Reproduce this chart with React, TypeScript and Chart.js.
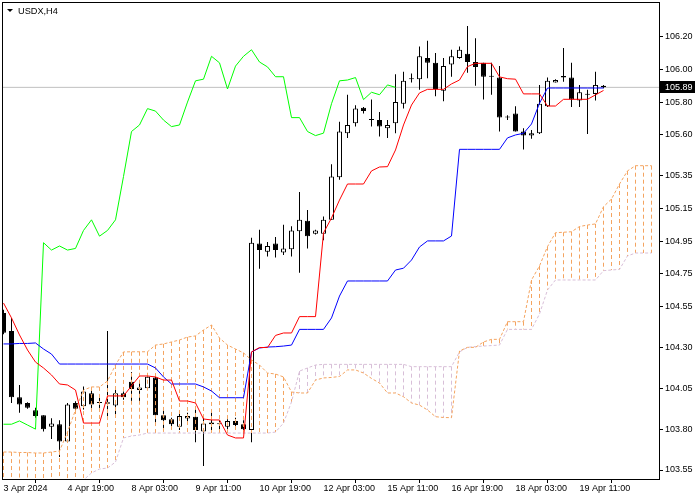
import React, { useEffect, useRef } from 'react';
import { Chart, registerables } from 'chart.js';
Chart.register(...registerables);

const symbolTitle = 'USDX,H4';
const lastPrice = 105.89;

const timeLabels = ['3 Apr 2024', '4 Apr 19:00', '8 Apr 03:00', '9 Apr 11:00', '10 Apr 19:00', '12 Apr 03:00', '15 Apr 11:00', '16 Apr 19:00', '18 Apr 03:00', '19 Apr 11:00'];
const yTickValues = [103.55, 103.8, 104.05, 104.3, 104.55, 104.75, 104.95, 105.15, 105.35, 105.6, 105.8, 106.0, 106.2];

const opens = [104.51, 104.40, 103.995, 103.96, 103.915, 103.885, 103.815, 103.83, 103.725, 103.96,
  103.94, 104.02, 103.96, 103.965, 103.945, 104.02, 104.09, 104.04, 104.05, 104.115,
  103.885, 103.86, 103.815, 103.865, 103.875, 103.785, 103.84, 103.83, 103.815, 103.85,
  103.83, 103.795, 104.935, 104.885, 104.935, 104.88, 104.90, 105.01, 105.075, 104.995,
  104.995, 105.08, 105.34, 105.61, 105.67, 105.765, 105.69, 105.69, 105.64, 105.67,
  105.79, 105.94, 105.94, 106.07, 106.04, 105.87, 106.03, 106.07, 106.095, 106.045,
  106.04, 105.955, 105.95, 105.705, 105.73, 105.62, 105.595, 105.61, 105.775, 105.92,
  105.96, 105.95, 105.81, 105.845, 105.85, 105.90];
const highs = [104.53, 104.48, 104.07, 103.965, 103.93, 103.885, 103.866, 103.855, 103.96, 103.97,
  104.06, 104.045, 103.99, 104.40, 104.05, 104.03, 104.15, 104.10, 104.14, 104.13,
  103.935, 103.87, 103.90, 103.90, 103.93, 103.87, 103.915, 103.855, 103.86, 103.87,
  103.855, 104.97, 105.02, 104.945, 104.975, 105.05, 105.04, 105.25, 105.14, 105.02,
  105.10, 105.42, 105.68, 105.845, 105.78, 105.77, 105.815, 105.74, 105.69, 105.97,
  105.985, 105.975, 106.14, 106.175, 106.10, 106.07, 106.12, 106.14, 106.265, 106.19,
  106.04, 106.04, 106.02, 105.72, 105.775, 105.64, 105.63, 105.905, 105.95, 105.94,
  106.13, 106.04, 105.905, 105.875, 105.985, 105.905];
const lows = [104.38, 103.96, 103.90, 103.925, 103.87, 103.785, 103.74, 103.63, 103.72, 103.91,
  103.92, 103.92, 103.91, 103.88, 103.89, 103.98, 103.96, 103.97, 104.05, 103.825,
  103.795, 103.81, 103.795, 103.845, 103.72, 103.575, 103.795, 103.795, 103.80, 103.81,
  103.775, 103.72, 104.78, 104.855, 104.85, 104.865, 104.855, 104.757, 104.905, 104.99,
  104.955, 105.08, 105.325, 105.58, 105.65, 105.73, 105.65, 105.59, 105.58, 105.61,
  105.76, 105.92, 105.875, 105.945, 105.835, 105.805, 105.955, 106.065, 105.98, 105.90,
  105.815, 105.845, 105.62, 105.69, 105.62, 105.51, 105.575, 105.605, 105.77, 105.92,
  105.925, 105.77, 105.77, 105.605, 105.81, 105.885];
const closes = [104.39, 103.995, 103.95, 103.93, 103.88, 103.80, 103.835, 103.725, 103.95, 103.925,
  104.03, 103.95, 103.96, 103.955, 104.02, 103.995, 104.045, 104.055, 104.12, 103.885,
  103.855, 103.83, 103.88, 103.88, 103.795, 103.835, 103.83, 103.83, 103.85, 103.825,
  103.80, 104.94, 104.895, 104.92, 104.895, 104.905, 105.015, 105.08, 104.98, 105.015,
  105.08, 105.345, 105.62, 105.66, 105.76, 105.745, 105.69, 105.65, 105.66, 105.80,
  105.93, 105.94, 106.08, 106.04, 105.88, 106.02, 106.08, 106.12, 106.045, 106.015,
  105.955, 105.955, 105.705, 105.705, 105.62, 105.595, 105.61, 105.79, 105.93, 105.935,
  105.95, 105.815, 105.86, 105.845, 105.905, 105.89];

const tenkan = [104.571, 104.480, 104.376, 104.284, 104.210, 104.174, 104.131, 104.076, 104.070, 104.039,
  103.837, 103.837, 103.837, 104.003, 104.003, 104.003, 104.064, 104.125, 104.125, 104.119,
  104.100, 104.100, 103.972, 103.972, 103.960, 103.862, 103.856, 103.856, 103.764, 103.746,
  103.746, 104.272, 104.299, 104.299, 104.373, 104.388, 104.388, 104.488, 104.488, 104.488,
  105.000, 105.091, 105.201, 105.299, 105.299, 105.299, 105.379, 105.403, 105.405, 105.507,
  105.660, 105.782, 105.856, 105.878, 105.878, 105.878, 105.911, 105.935, 106.017, 106.037,
  106.037, 106.037, 105.954, 105.943, 105.940, 105.850, 105.850, 105.850, 105.776, 105.776,
  105.817, 105.817, 105.817, 105.817, 105.844, 105.871];
const kijun = [104.321, 104.321, 104.324, 104.324, 104.327, 104.290, 104.259, 104.198, 104.198, 104.198,
  104.198, 104.198, 104.198, 104.198, 104.198, 104.198, 104.198, 104.198, 104.198, 104.174,
  104.119, 104.076, 104.076, 104.076, 104.076, 104.058, 104.033, 103.992, 103.992, 103.992,
  103.992, 104.272, 104.296, 104.302, 104.304, 104.308, 104.314, 104.410, 104.410, 104.410,
  104.410, 104.480, 104.614, 104.706, 104.706, 104.706, 104.706, 104.706, 104.706, 104.773,
  104.784, 104.834, 104.914, 104.951, 104.951, 104.951, 104.981, 105.511, 105.511, 105.511,
  105.511, 105.511, 105.511, 105.581, 105.599, 105.609, 105.666, 105.793, 105.886, 105.886,
  105.886, 105.886, 105.886, 105.886, 105.886, 105.886];
const senkouA = [103.660, 103.660, 103.657, 103.657, 103.654, 103.654, 103.660, 103.666, 103.782, 103.917,
  104.039, 104.058, 104.058, 104.094, 104.192, 104.272, 104.273, 104.273, 104.273, 104.314,
  104.321, 104.333, 104.345, 104.363, 104.370, 104.406, 104.437, 104.357, 104.314, 104.290,
  104.266, 104.223, 104.192, 104.143, 104.137, 104.119, 104.027, 104.021, 104.021, 104.100,
  104.113, 104.116, 104.122, 104.162, 104.162, 104.143, 104.110, 104.082, 104.021, 104.021,
  103.998, 103.960, 103.947, 103.917, 103.876, 103.871, 103.870, 104.278, 104.300, 104.300,
  104.333, 104.349, 104.349, 104.457, 104.457, 104.457, 104.712, 104.798, 104.916, 105.001,
  105.004, 105.007, 105.039, 105.048, 105.055, 105.160, 105.207, 105.299, 105.379, 105.411,
  105.411, 105.411];
const senkouB = [103.45, 103.45, 103.45, 103.45, 103.45, 103.45, 103.45, 103.45, 103.45, 103.45,
  103.489, 103.532, 103.556, 103.562, 103.599, 103.746, 103.758, 103.764, 103.776, 103.776,
  103.776, 103.776, 103.776, 103.776, 103.776, 103.776, 103.776, 103.776, 103.776, 103.776,
  103.776, 103.776, 103.776, 103.776, 103.782, 103.837, 103.966, 104.155, 104.174, 104.192,
  104.196, 104.196, 104.196, 104.196, 104.196, 104.196, 104.196, 104.196, 104.196, 104.196,
  104.196, 104.182, 104.182, 104.182, 104.182, 104.182, 104.182, 104.272, 104.300, 104.305,
  104.308, 104.311, 104.314, 104.410, 104.410, 104.410, 104.410, 104.504, 104.651, 104.712,
  104.712, 104.712, 104.712, 104.712, 104.712, 104.769, 104.773, 104.777, 104.859, 104.877,
  104.877, 104.877];

const CHIKOU_SHIFT = 26;
const X_MIN = -0.1875;
const X_MAX = 81.9375;
const Y_MIN = 103.495;
const Y_MAX = 106.412;
const FONT = "'Liberation Sans', Arial, sans-serif";

function hatchPoints(pick: (i: number) => boolean) {
  const pts: any[] = [];
  senkouA.forEach((a, i) => {
    if (!pick(i)) return;
    const b = senkouB[i];
    pts.push({ x: i, y: Math.max(a, b) }, { x: i, y: Math.min(a, b) }, { x: i, y: null });
  });
  return pts;
}

export default function App() {
  const ref = useRef<HTMLCanvasElement>(null);
  useEffect(() => {
    document.body.style.margin = '0';
    const canvas = ref.current!;

    const idx = opens.map((_, i) => i);
    const wicks = idx.map(i => ({ x: i, y: [lows[i], highs[i]] }));
    const bodies = idx.map(i => ({ x: i, y: [Math.min(opens[i], closes[i]), Math.max(opens[i], closes[i])] }));
    const bodyColors = idx.map(i => (closes[i] > opens[i] ? '#ffffff' : '#000000'));
    const hatchUp = hatchPoints(i => senkouA[i] >= senkouB[i]);
    const hatchDown = hatchPoints(i => senkouA[i] < senkouB[i]);
    const chikou = closes.slice(CHIKOU_SHIFT).map((v, i) => ({ x: i, y: v }));

    const lineBase = { type: 'line', pointRadius: 0, borderWidth: 1, tension: 0, fill: false, clip: 0, spanGaps: false };
    const barBase = { type: 'bar', grouped: false, inflateAmount: 0, clip: 0 };

    const overlay = {
      id: 'overlay',
      afterDraw(chart: any) {
        const { ctx: c, chartArea: a, scales } = chart;
        c.save();
        c.strokeStyle = '#000';
        c.lineWidth = 1;
        c.strokeRect(a.left + 0.5, a.top + 0.5, a.right - a.left, a.bottom - a.top);
        c.fillStyle = '#000';
        c.beginPath();
        c.moveTo(7, 9); c.lineTo(13, 9); c.lineTo(10, 12); c.closePath();
        c.fill();
        c.font = `9.2px ${FONT}`;
        c.textBaseline = 'alphabetic';
        c.textAlign = 'left';
        c.fillText(symbolTitle, 18, 14);
        const py = Math.round(scales.y.getPixelForValue(lastPrice));
        c.fillStyle = '#000';
        c.fillRect(a.right + 1, py - 6, 35, 12);
        c.fillStyle = '#fff';
        c.font = `9px ${FONT}`;
        c.textBaseline = 'middle';
        c.fillText(lastPrice.toFixed(2), a.right + 6, py + 0.5);
        c.restore();
      },
    };

    const zeroPad = (axis: any) => { axis.paddingTop = 0; axis.paddingBottom = 0; axis.paddingLeft = 0; axis.paddingRight = 0; };

    const chart = new Chart(canvas, {
      type: 'bar',
      data: {
        datasets: [
          { ...lineBase, label: 'bid', data: [{ x: X_MIN, y: lastPrice }, { x: X_MAX, y: lastPrice }], borderColor: '#c0c0c0', order: 9 },
          { ...barBase, label: 'wick', data: wicks, backgroundColor: '#000', borderWidth: 0, barThickness: 1, order: 8 },
          { ...barBase, label: 'body', data: bodies, backgroundColor: bodyColors, borderColor: '#000', borderWidth: 1, borderSkipped: false, barThickness: 5, minBarLength: 1, order: 7 },
          { ...lineBase, label: 'cloudUp', data: hatchUp, borderColor: '#f4a460', borderDash: [4, 3], order: 6 },
          { ...lineBase, label: 'cloudDown', data: hatchDown, borderColor: '#d8bfd8', borderDash: [4, 3], order: 6 },
          { ...lineBase, label: 'Senkou A', data: senkouA.map((v, i) => ({ x: i, y: v })), borderColor: '#f4a460', borderDash: [3, 2], order: 5 },
          { ...lineBase, label: 'Senkou B', data: senkouB.map((v, i) => ({ x: i, y: v })), borderColor: '#d8bfd8', borderDash: [3, 2], order: 5 },
          { ...lineBase, label: 'Chikou', data: chikou, borderColor: '#00ff00', order: 3 },
          { ...lineBase, label: 'Kijun', data: kijun.map((v, i) => ({ x: i, y: v })), borderColor: '#0000ff', order: 2 },
          { ...lineBase, label: 'Tenkan', data: tenkan.map((v, i) => ({ x: i, y: v })), borderColor: '#ff0000', order: 1 },
        ] as any,
      },
      options: {
        responsive: false,
        animation: false,
        events: [],
        layout: { padding: { left: 2, top: 2, right: 0, bottom: 0 } },
        plugins: { legend: { display: false }, tooltip: { enabled: false }, title: { display: false } },
        scales: {
          x: {
            type: 'linear', position: 'bottom', min: X_MIN, max: X_MAX, offset: false, bounds: 'data',
            afterBuildTicks: (axis: any) => { axis.ticks = timeLabels.map((_, k) => ({ value: k * 8 })); },
            afterFit: (axis: any) => { axis.height = 21; zeroPad(axis); },
            ticks: {
              autoSkip: false, maxRotation: 0, minRotation: 0, align: 'start', padding: 0, color: '#000',
              font: { family: FONT, size: 9 },
              callback: (_v: any, i: number) => timeLabels[i] ?? '',
            },
            grid: { display: true, drawOnChartArea: false, drawTicks: true, tickLength: 4, color: '#000' },
            border: { display: false },
          },
          y: {
            type: 'linear', position: 'right', min: Y_MIN, max: Y_MAX, bounds: 'data',
            afterBuildTicks: (axis: any) => { axis.ticks = yTickValues.map(v => ({ value: v })); },
            afterFit: (axis: any) => { axis.width = 41; zeroPad(axis); },
            ticks: {
              autoSkip: false, padding: 2, color: '#000', font: { family: FONT, size: 9 },
              callback: (v: any) => Number(v).toFixed(2),
            },
            grid: { display: true, drawOnChartArea: false, drawTicks: true, tickLength: 4, color: '#000' },
            border: { display: false },
          },
        },
      } as any,
      plugins: [overlay],
    });
    return () => chart.destroy();
  }, []);
  return <canvas ref={ref} width={700} height={500} style={{ display: 'block' }} />;
}
